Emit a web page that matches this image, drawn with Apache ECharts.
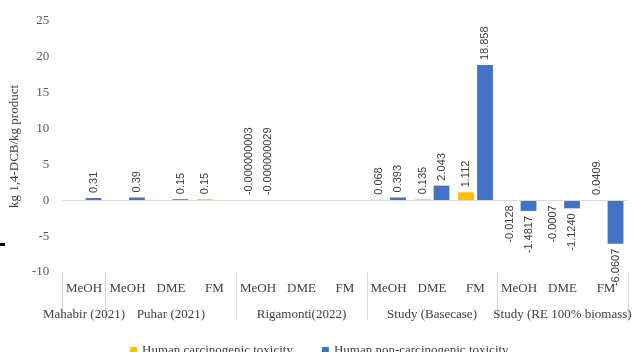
<!DOCTYPE html>
<html>
<head>
<meta charset="utf-8">
<script src="https://cdn.jsdelivr.net/npm/echarts@6/dist/echarts.min.js"></script>
<style>
  html, body { margin: 0; padding: 0; background: #fff; }
  #chart { width: 634px; height: 352px; }
</style>
</head>
<body>
<div id="chart"></div>
<script>
// Product categories, grouped by source study
const groups = ['Mahabir (2021)', 'Puhar (2021)', 'Rigamonti(2022)', 'Study (Basecase)', 'Study (RE 100% biomass)'];
const groupSizes = [1, 3, 3, 3, 3];
const products = ['MeOH', 'MeOH', 'DME', 'FM', 'MeOH', 'DME', 'FM', 'MeOH', 'DME', 'FM', 'MeOH', 'DME', 'FM'];

// Values in kg 1,4-DCB/kg product, kept as written so labels show the same digits
const carcinogenic = [null, null, null, '0.15', '-0.000000003', null, null, '0.068', '0.135', '1.112', '-0.0128', '-0.0007', '0.0409'];
const nonCarcinogenic = ['0.31', '0.39', '0.15', null, '-0.000000029', null, null, '0.393', '2.043', '18.858', '-1.4817', '-1.1240', '-6.0607'];

const yTicks = { min: -10, max: 25, interval: 5 };

const serif = '"Liberation Serif", "Times New Roman", serif';
const sans = '"Liberation Sans", Arial, sans-serif';

// Index of the first category in every group, used for the separator ticks
const groupStarts = [];
groupSizes.reduce((acc, n) => { groupStarts.push(acc); return acc + n; }, 0);

// Middle category of each group carries the group label
const groupAxisLabels = products.map(() => '');
groupSizes.reduce((acc, n, i) => { groupAxisLabels[acc + Math.floor(n / 2)] = groups[i]; return acc + n; }, 0);

function toItems(values) {
  return values.map(v => {
    if (v === null) return { value: null, label: { show: false } };
    const num = Number(v);
    // labels sit beyond the bar end; near-zero values keep theirs above the baseline
    const above = num >= -1e-6;
    return {
      value: num,
      text: v,
      label: {
        show: true,
        position: above ? 'top' : 'bottom',
        align: above ? 'left' : 'right'
      }
    };
  });
}

function barSeries(name, values, color, withBaseline) {
  const s = {
    name: name,
    type: 'bar',
    data: toItems(values),
    itemStyle: { color: color },
    barGap: '20%',
    barCategoryGap: '20%',
    label: {
      show: true,
      rotate: 90,
      verticalAlign: 'middle',
      distance: 5,
      color: '#404040',
      fontFamily: sans,
      fontSize: 11,
      formatter: p => p.data.text
    }
  };
  if (withBaseline) {
    s.markLine = {
      silent: true,
      symbol: 'none',
      label: { show: false },
      lineStyle: { color: '#d9d9d9', type: 'solid', width: 1 },
      data: [{ yAxis: 0 }]
    };
  }
  return s;
}

const chart = echarts.init(document.getElementById('chart'));
chart.setOption({
  animation: false,
  backgroundColor: '#fff',
  grid: { left: 57, right: 4, top: 21, bottom: 80 },
  legend: {
    bottom: -10,
    left: 125,
    itemWidth: 7,
    itemHeight: 7,
    itemGap: 29,
    icon: 'rect',
    textStyle: { fontFamily: serif, fontSize: 13, color: '#404040' },
    data: ['Human carcinogenic toxicity', 'Human non-carcinogenic toxicity']
  },
  xAxis: [
    {
      type: 'category',
      data: products,
      position: 'bottom',
      axisLine: { show: false, onZero: false },
      axisTick: {
        show: true,
        length: 48,
        interval: (index) => groupStarts.includes(index),
        lineStyle: { color: '#d9d9d9' }
      },
      axisLabel: { interval: 0, margin: 10, fontFamily: serif, fontSize: 13, color: '#404040' }
    },
    {
      type: 'category',
      data: groupAxisLabels,
      position: 'bottom',
      offset: 27,
      axisLine: { show: false, onZero: false },
      axisTick: { show: false },
      axisLabel: { interval: 0, margin: 9, fontFamily: serif, fontSize: 13, color: '#404040' }
    }
  ],
  yAxis: {
    type: 'value',
    min: yTicks.min,
    max: yTicks.max,
    interval: yTicks.interval,
    name: 'kg 1,4-DCB/kg product',
    nameLocation: 'middle',
    nameGap: 40,
    nameRotate: 90,
    nameTextStyle: { fontFamily: serif, fontSize: 13, color: '#404040' },
    axisLine: { show: false },
    axisTick: { show: false },
    splitLine: { show: false },
    axisLabel: { margin: 13, fontFamily: serif, fontSize: 13, color: '#595959' }
  },
  series: [
    barSeries('Human carcinogenic toxicity', carcinogenic, '#FFC000', true),
    barSeries('Human non-carcinogenic toxicity', nonCarcinogenic, '#4472C4', false)
  ],
  graphic: [
    { type: 'rect', left: 0, top: 243, shape: { width: 5, height: 3 }, style: { fill: '#000' }, silent: true }
  ]
});
</script>
</body>
</html>
